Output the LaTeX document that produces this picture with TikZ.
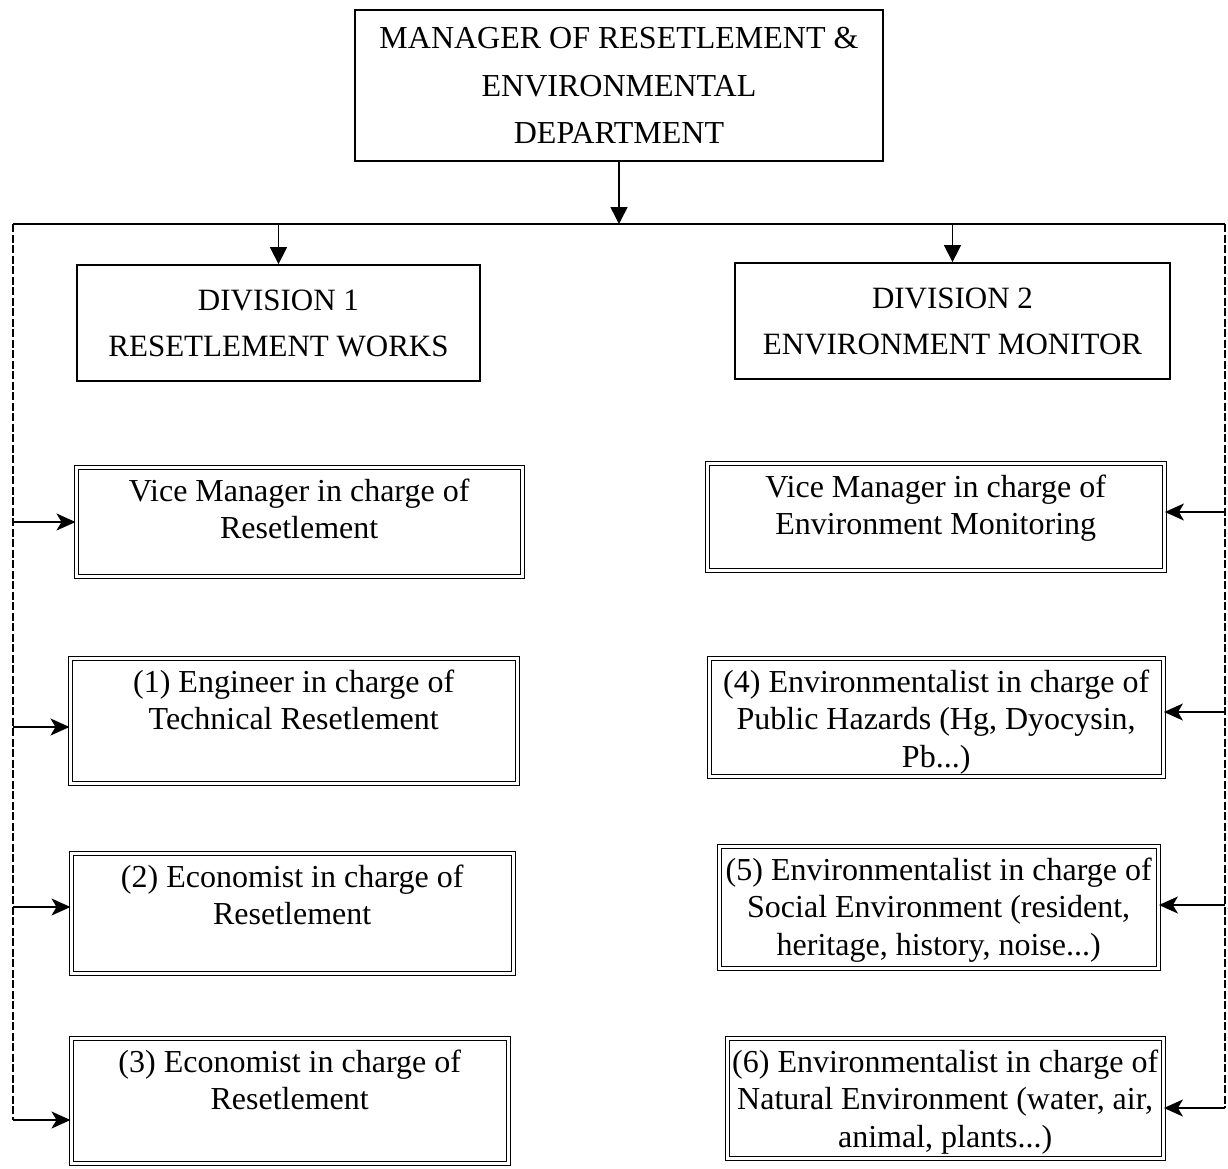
\documentclass[tikz,border=0pt]{standalone}
\usepackage{fontspec}
\setmainfont{Liberation Serif}
\usetikzlibrary{arrows.meta}
\newcommand{\bodytext}[3]{\parbox[c][#2pt][t]{#1pt}{\centering\fontsize{32}{37.5}\selectfont\vspace*{8pt}\strut#3}}
\tikzset{
  headbox/.style={draw, line width=2.4pt, minimum width=528pt, minimum height=151pt, align=center,
    font=\fontsize{32}{47.5}\selectfont, inner sep=0pt},
  divbox/.style={draw, line width=1.8pt, minimum height=116pt, align=center,
    font=\fontsize{31}{46}\selectfont, inner sep=0pt},
  dbox/.style={draw, double, double distance=2.6pt, line width=1.4pt, inner sep=0pt, anchor=north west},
  varr/.style={line width=1.5pt, -{Triangle[length=17pt,width=17pt]}},
  harr/.style={line width=1.5pt, -{Stealth[length=19pt,width=17pt,inset=5pt]}},
  bus/.style={line width=1.6pt},
  feed/.style={line width=1.3pt, dash pattern=on 8pt off 2.5pt}
}
\begin{document}
\begin{tikzpicture}[x=1pt, y=-1pt]
\useasboundingbox (0,0) rectangle (1228,1169);

% top box
\node[headbox] (top) at (619,85.5) {\raisebox{-3pt}{\parbox{520pt}{\centering MANAGER OF RESETLEMENT \&\\ENVIRONMENTAL\\DEPARTMENT}}};

% divisions
\node[divbox, minimum width=403pt] (div1) at (278.5,323) {DIVISION 1\\RESETLEMENT WORKS};
\node[divbox, minimum width=435pt] (div2) at (952.5,321) {DIVISION 2\\ENVIRONMENT MONITOR};

% left column
\node[dbox] (vmL) at (75.5,466.5) {\bodytext{446}{109}{Vice Manager in charge of\\Resetlement}};
\node[dbox] (n1) at (69.5,657.5) {\bodytext{447}{125}{(1) Engineer in charge of\\Technical Resetlement}};
\node[dbox] (n2) at (70.5,852.5) {\bodytext{442}{120}{(2) Economist in charge of\\Resetlement}};
\node[dbox] (n3) at (70.5,1037.5) {\bodytext{437}{125}{(3) Economist in charge of\\Resetlement}};

% right column
\node[dbox] (vmR) at (706.5,462.5) {\bodytext{457}{107}{Vice Manager in charge of\\Environment Monitoring}};
\node[dbox] (n4) at (708.5,657.5) {\bodytext{454}{118}{(4) Environmentalist in charge of\\Public Hazards (Hg, Dyocysin,\\Pb...)}};
\node[dbox] (n5) at (718.5,845.5) {\bodytext{439}{122}{(5) Environmentalist in charge of\\Social Environment (resident,\\heritage, history, noise...)}};
\node[dbox] (n6) at (726.5,1037.5) {\bodytext{436}{120}{(6) Environmentalist in charge of\\Natural Environment (water, air,\\animal, plants...)}};

% bus
\coordinate (busL) at (13,224);
\coordinate (busR) at (1225,224);
\draw[bus] (busL) -- (busR);
\draw[varr] (top.south) -- (top.south |- busL);
\draw[varr] (div1.north |- busL) -- (div1.north);
\draw[varr] (div2.north |- busL) -- (div2.north);

% left feeders
\coordinate (l0) at (13,522);
\coordinate (l1) at (13,727);
\coordinate (l2) at (13,907);
\coordinate (l3) at (13,1120);
\draw[feed] (busL) -- (l3);
\draw[harr] (l0) -- (l0 -| vmL.west);
\draw[harr] (l1) -- (l1 -| n1.west);
\draw[harr] (l2) -- (l2 -| n2.west);
\draw[harr] (l3) -- (l3 -| n3.west);

% right feeders
\coordinate (r0) at (1225,512);
\coordinate (r1) at (1225,712);
\coordinate (r2) at (1225,905);
\coordinate (r3) at (1225,1108);
\draw[feed] (busR) -- (r3);
\draw[harr] (r0) -- (r0 -| vmR.east);
\draw[harr] (r1) -- (r1 -| n4.east);
\draw[harr] (r2) -- (r2 -| n5.east);
\draw[harr] (r3) -- (r3 -| n6.east);
\end{tikzpicture}
\end{document}
